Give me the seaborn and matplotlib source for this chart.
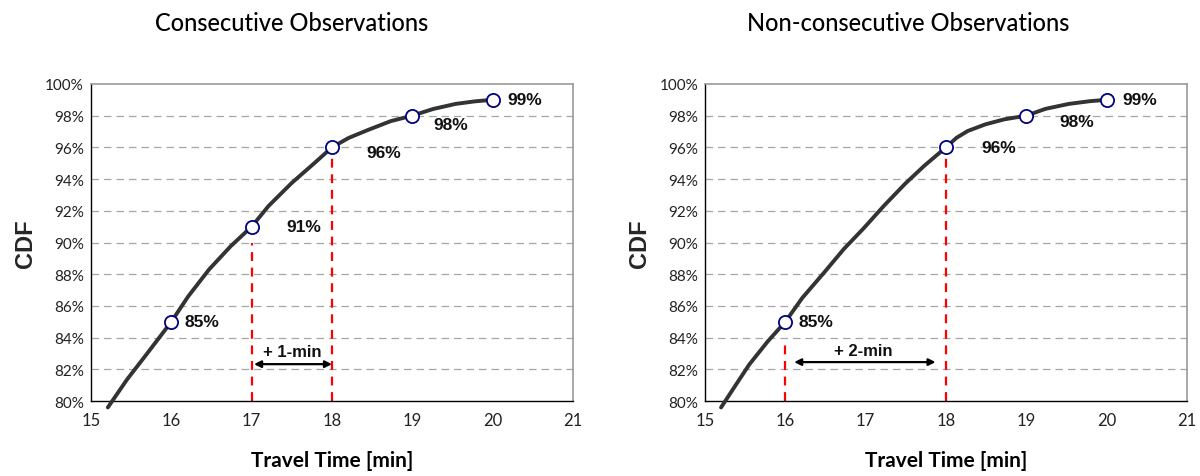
import matplotlib
matplotlib.use("Agg")
import matplotlib.pyplot as plt
import seaborn as sns
import pandas as pd
from matplotlib.ticker import FuncFormatter

# ---- data ----
left_x = [15.21, 15.45, 15.69, 16.0, 16.21, 16.47, 16.74, 17.0, 17.21, 17.5, 17.78, 18.0,
          18.21, 18.45, 18.73, 19.0, 19.26, 19.54, 19.78, 20.0]
left_y = [79.6, 81.37, 82.94, 85.0, 86.6, 88.3, 89.77, 91.0, 92.3, 93.76, 95.0, 96.0,
          96.6, 97.1, 97.65, 98.0, 98.42, 98.74, 98.9, 99.0]
left_mx = [16, 17, 18, 19, 20]
left_my = [85, 91, 96, 98, 99]
left_lbl = ["85%", "91%", "96%", "98%", "99%"]
left_lbl_x = [16.17, 17.43, 18.43, 19.26, 20.18]
left_lbl_y = [85.0, 91.03, 95.7, 97.44, 99.0]

right_x = [15.2, 15.36, 15.55, 15.78, 16.0, 16.21, 16.49, 16.73, 16.97, 17.23, 17.49, 17.73,
           18.0, 18.13, 18.27, 18.49, 18.72, 19.0, 19.24, 19.53, 19.79, 20.0]
right_y = [79.6, 80.84, 82.3, 83.76, 85.0, 86.5, 88.15, 89.6, 90.87, 92.33, 93.7, 94.84,
           96.0, 96.6, 97.03, 97.45, 97.76, 98.0, 98.43, 98.74, 98.91, 99.0]
right_mx = [16, 18, 19, 20]
right_my = [85, 96, 98, 99]
right_lbl = ["85%", "96%", "98%", "99%"]
right_lbl_x = [16.17, 18.44, 19.41, 20.19]
right_lbl_y = [85.0, 96.0, 97.64, 99.0]

titles = ["Consecutive Observations", "Non-consecutive Observations"]
title_xpos = [0.417, 0.421]
xticks = [15, 16, 17, 18, 19, 20, 21]
yticks = [80, 82, 84, 86, 88, 90, 92, 94, 96, 98, 100]

left_vlines = [(17, 90.0), (18, 95.65)]
right_vlines = [(16, 83.9), (18, 95.65)]
left_arrow = (17.03, 18.0, 82.33, "+ 1-min", 17.5, 83.15)
right_arrow = (16.11, 17.87, 82.46, "+ 2-min", 16.97, 83.2)

sns.set_style("white")
geo = ["Lato", "DejaVu Sans"]
bold = ["Liberation Sans", "DejaVu Sans"]

fig = plt.figure(figsize=(12, 4.77), dpi=100)
ax1 = fig.add_axes([0.0758, 0.157, 0.4017, 0.665])
ax2 = fig.add_axes([0.5875, 0.157, 0.4017, 0.665])

panels = [
    (ax1, left_x, left_y, left_mx, left_my, left_lbl, left_lbl_x, left_lbl_y, left_vlines, left_arrow),
    (ax2, right_x, right_y, right_mx, right_my, right_lbl, right_lbl_x, right_lbl_y, right_vlines, right_arrow),
]

for i, (ax, x, y, mx, my, lbl, lx, ly, vl, arr) in enumerate(panels):
    ax.set_xlim(15, 21)
    ax.set_ylim(80, 100)
    ax.set_yticks(yticks)
    ax.set_xticks(xticks)
    ax.yaxis.set_major_formatter(FuncFormatter(lambda v, p: f"{int(v)}%"))
    for yy in yticks[1:-1]:
        ax.axhline(yy, color="#a6a6a6", lw=0.9, ls=(0, (6, 4)), zorder=0)
    for xv, ytop in vl:
        ax.plot([xv, xv], [80, ytop], color="#ff0000", lw=1.6, ls=(0, (4, 3)), zorder=2)
    df = pd.DataFrame({"x": x, "y": y})
    sns.lineplot(data=df, x="x", y="y", ax=ax, color="#333333", lw=2.8, sort=False, zorder=3)
    for ln in ax.lines:
        ln.set_clip_on(False)
    dm = pd.DataFrame({"x": mx, "y": my})
    sns.scatterplot(data=dm, x="x", y="y", ax=ax, s=90, facecolor="white",
                    edgecolor="#000080", linewidth=1.3, zorder=4, clip_on=False)
    for t, tx, ty in zip(lbl, lx, ly):
        ax.text(tx, ty, t, fontsize=12.5, fontweight="bold", family=bold,
                ha="left", va="center", color="#111111")
    x0, x1, ya, txt, txx, tyy = arr
    ax.annotate("", xy=(x1, ya), xytext=(x0, ya),
                arrowprops=dict(arrowstyle="<|-|>", color="black", lw=1.6,
                                mutation_scale=10, shrinkA=0, shrinkB=0))
    ax.text(txx, tyy, txt, fontsize=12, fontweight="bold", family=bold,
            ha="center", va="center", color="#111111")
    for s in ["left", "bottom"]:
        ax.spines[s].set_color("black")
        ax.spines[s].set_linewidth(1.0)
    for s in ["top", "right"]:
        ax.spines[s].set_color("#999999")
        ax.spines[s].set_linewidth(1.2)
    ax.tick_params(axis="y", direction="inout", length=6, width=1, labelsize=11,
                   colors="black", pad=2)
    ax.tick_params(axis="x", direction="in", length=5, width=1, labelsize=12,
                   colors="black", pad=8)
    for lab in ax.get_xticklabels() + ax.get_yticklabels():
        lab.set_family(geo)
        lab.set_color("#222222")
    ax.set_xlabel("Travel Time [min]", fontsize=15, family=geo, fontweight="bold",
                  labelpad=16, color="black")
    ax.set_ylabel("CDF", fontsize=17, family=bold, fontweight="bold", labelpad=6)
    ax.set_title(titles[i], fontsize=17, family=geo, fontweight="medium",
                 x=title_xpos[i], y=1.0, pad=39, color="black")

fig.savefig("out.png", dpi=100)
